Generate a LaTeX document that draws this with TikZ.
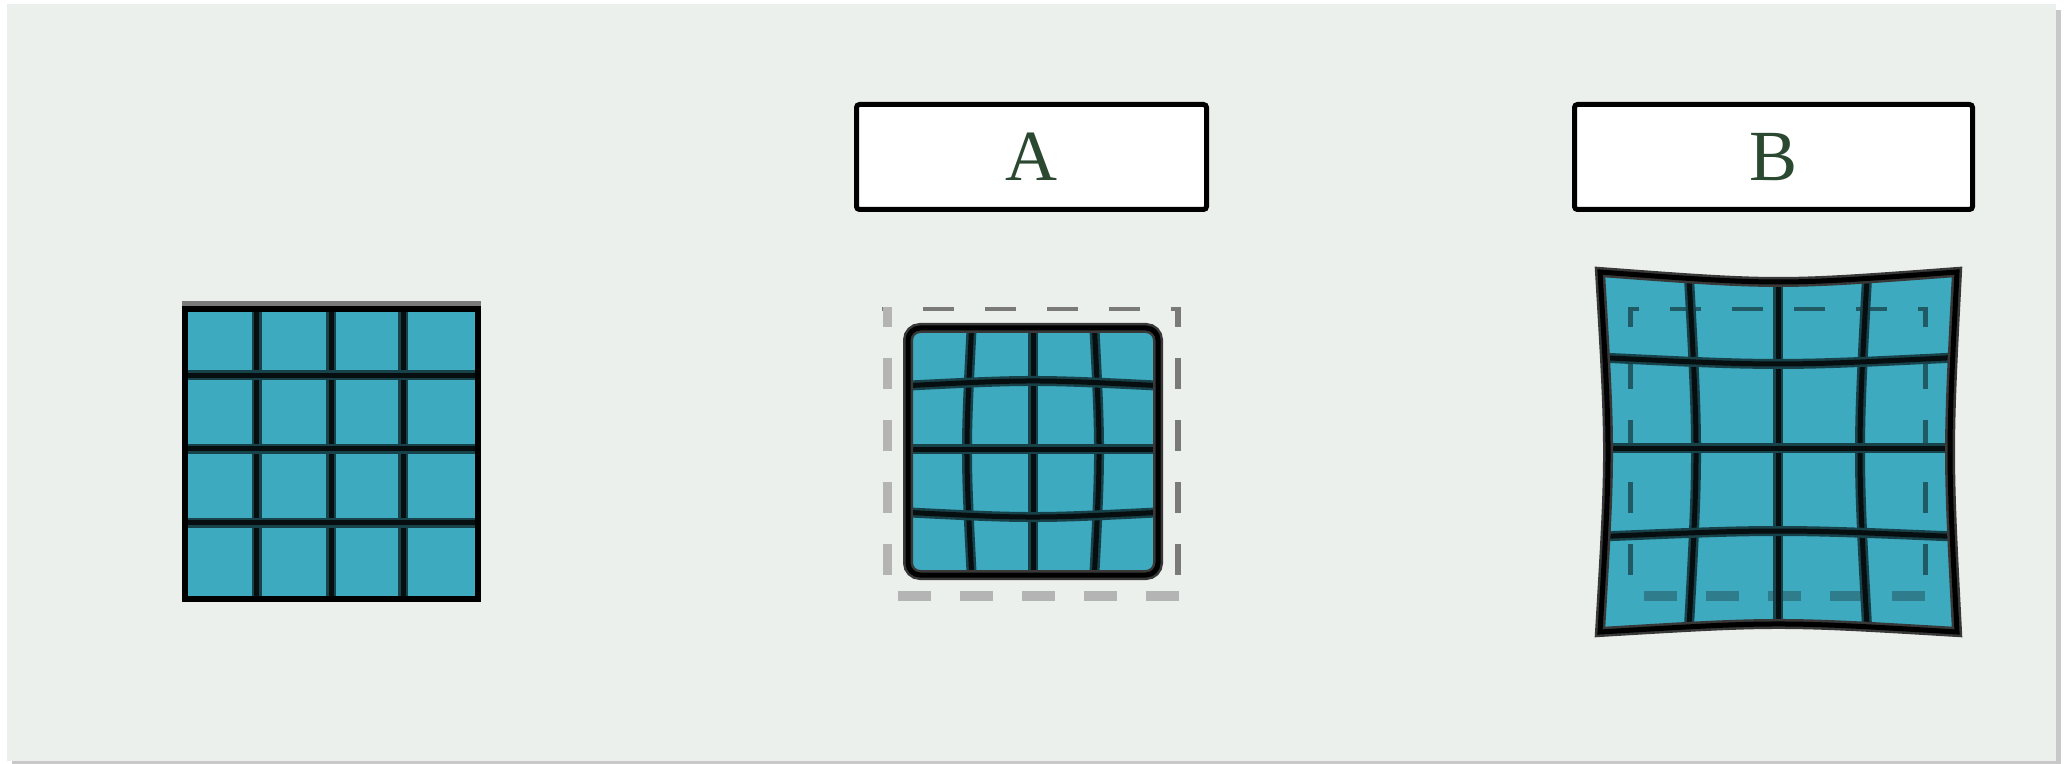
\documentclass[tikz,border=0pt]{standalone}
\usepackage{fontspec}
\setmainfont{Liberation Serif}
\definecolor{panelbg}{RGB}{236,240,236}
\definecolor{panelshadow}{RGB}{200,200,200}
\definecolor{cellfill}{RGB}{61,170,192}
\definecolor{gridink}{RGB}{6,14,16}
\definecolor{gridhalo}{RGB}{24,66,74}
\definecolor{dashdark}{RGB}{122,122,122}
\definecolor{dashlight}{RGB}{180,180,180}
\definecolor{dashtealdark}{RGB}{32,90,100}
\definecolor{dashteallight}{RGB}{46,124,140}
\definecolor{lblink}{RGB}{43,72,48}
\tikzset{
  gridline/.style={preaction={draw=gridhalo, line width=5pt}, draw=gridink, line width=2.5pt},
  gridouter/.style={preaction={draw=black!78, line width=5pt}, draw=black, line width=2.5pt},
  plainouter/.style={draw=black, line width=3pt},
  labelbox/.style={draw=black, fill=white, line width=2.5pt, rounded corners=1.5pt,
    minimum height=52.5pt, text=lblink, font=\fontsize{36pt}{40pt}\selectfont, inner sep=0pt},
  dashside/.style={dash pattern=on 15.5pt off 15.5pt, line cap=butt},
  dashbottom/.style={dash pattern=on 16.5pt off 14.5pt, dash phase=23pt, line cap=butt},
}
\begin{document}
\begin{tikzpicture}[x=0.5pt,y=-0.5pt]
\useasboundingbox (0,0) rectangle (2071,764);
\fill[white] (0,0) rectangle (2071,764);
\fill[panelshadow] (12,10) rectangle (2061,764);
\fill[panelbg] (7,4) rectangle (2056,761);

% ---- left (original) grid ----
\fill[cellfill] (182,304) rectangle (481,601);
\foreach \x in {256.5,331,403} \draw[gridline] (\x,309) -- (\x,599);
\foreach \y in {375.5,448.5,522.5} \draw[gridline] (184.5,\y) -- (478,\y);
\fill[black!52] (182,301) rectangle (481,306.5);
\draw[plainouter] (184.5,309) rectangle (478,599);

% ---- A ----
\node[labelbox, minimum width=175pt] (boxA) at (1031.5,157) {A};
\draw[dashdark, line width=2pt, dashside, dash phase=10.5pt] (882,309) -- (1181,309);
\draw[dashdark, line width=3pt, dashside, dash phase=5.5pt] (1178,307) -- (1178,590);
\draw[dashlight, line width=4.5pt, dashside, dash phase=5.5pt] (887,307) -- (887,590);
\draw[dashlight, line width=5pt, dashbottom] (882,596) -- (1181,596);

\fill[cellfill, rounded corners=6pt] (908,328) rectangle (1158,575);
\begin{scope}
  \clip[rounded corners=6pt] (908,328) rectangle (1158,575);
  \draw[gridline] (972,320) .. controls (965.3,451) .. (972,582);
  \draw[gridline] (1033,320) -- (1033,582);
  \draw[gridline] (1094,320) .. controls (1100.7,451) .. (1094,582);
  \draw[gridline] (900,386) .. controls (1033,379.3) .. (1166,386);
  \draw[gridline] (900,449) -- (1166,449);
  \draw[gridline] (900,512) .. controls (1033,518.7) .. (1166,512);
\end{scope}
\draw[gridouter, rounded corners=6pt] (908,328) rectangle (1158,575);

% ---- B ----
\node[labelbox, minimum width=199pt] (boxB) at (1773.5,157) {B};
\fill[cellfill] (1600,272) .. controls (1778.5,285.3) .. (1957,272)
  .. controls (1947.7,452) .. (1957,632)
  .. controls (1778.5,621.3) .. (1600,632)
  .. controls (1610.7,452) .. cycle;
\begin{scope}
  \clip (1600,272) .. controls (1778.5,285.3) .. (1957,272)
    .. controls (1947.7,452) .. (1957,632)
    .. controls (1778.5,621.3) .. (1600,632)
    .. controls (1610.7,452) .. cycle;
  \draw[dashtealdark, line width=2pt, dashside, dash phase=10pt] (1628,309) -- (1927,309);
  \draw[dashtealdark, line width=2.5pt, dashside, dash phase=5.5pt] (1630,307) -- (1630,590);
  \draw[dashtealdark, line width=2.5pt, dashside, dash phase=5.5pt] (1925,307) -- (1925,590);
  \draw[dashteallight, line width=5pt, dashbottom] (1628,596) -- (1927,596);
  \draw[gridline] (1688,260) .. controls (1698.7,452) .. (1688,644);
  \draw[gridline] (1778,260) -- (1778,644);
  \draw[gridline] (1868,260) .. controls (1857.3,452) .. (1868,644);
  \draw[gridline] (1590,357) .. controls (1778,366.3) .. (1966,357);
  \draw[gridline] (1590,448) -- (1966,448);
  \draw[gridline] (1590,537) .. controls (1778,529) .. (1966,537);
\end{scope}
\draw[gridouter, line join=miter] (1600,272) .. controls (1778.5,285.3) .. (1957,272)
  .. controls (1947.7,452) .. (1957,632)
  .. controls (1778.5,621.3) .. (1600,632)
  .. controls (1610.7,452) .. cycle;
\end{tikzpicture}
\end{document}
